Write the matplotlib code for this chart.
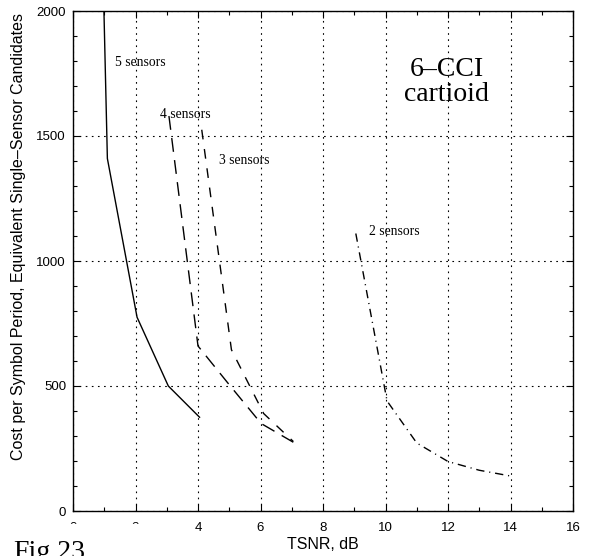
import matplotlib
matplotlib.use("Agg")

import matplotlib.pyplot as plt
from matplotlib.patches import Rectangle
from matplotlib.ticker import MultipleLocator

# ---------------------------------------------------------------------------
# Data (TSNR in dB, cost per symbol period)
# ---------------------------------------------------------------------------
sens5_x = [0.99, 1.1, 2.05, 3.05, 4.05]
sens5_y = [2000, 1410, 775, 500, 375]

sens4_x = [3.07, 4.0, 5.0, 6.02, 7.05]
sens4_y = [1580, 660, 505, 350, 275]

sens3_x = [4.12, 5.07, 6.1, 7.05]
sens3_y = [1525, 645, 390, 278]

sens2_x = [9.05, 10.05, 11.0, 12.0, 13.0, 14.0]
sens2_y = [1110, 440, 272, 198, 163, 140]

curve_labels = ["5 sensors", "4 sensors", "3 sensors", "2 sensors"]
label_x = [1.34, 2.78, 4.67, 9.47]
label_y = [1796, 1588, 1404, 1117]

plt.rcParams["font.family"] = ["Liberation Sans", "DejaVu Sans"]
SERIF = ["Liberation Serif", "DejaVu Serif"]

fig = plt.figure(figsize=(5.91, 5.56), dpi=100)
ax = fig.add_axes([73 / 591, 45 / 556, 500 / 591, 500 / 556])

# ── curves ────────────────────────────────────────────────────────────────
ax.plot(sens5_x, sens5_y, color="black", lw=1.0, solid_joinstyle="miter")
ax.plot(sens4_x, sens4_y, color="black", lw=1.0, dashes=(10, 6))
ax.plot(sens3_x, sens3_y, color="black", lw=1.0, dashes=(7, 7))
ax.plot(sens2_x, sens2_y, color="black", lw=1.0, dashes=(6, 3.5, 0.8, 3.5))

for txt, x, y in zip(curve_labels, label_x, label_y):
    ax.text(x, y, txt, family=SERIF, fontsize=9.8, ha="left", va="center")

ax.text(11.95, 1715, "6\u2013CCI\ncartioid", family=SERIF, fontsize=20,
        ha="center", va="center", linespacing=1.0)

# ── axes ──────────────────────────────────────────────────────────────────
ax.set_xlim(0, 16)
ax.set_ylim(0, 2000)
ax.xaxis.set_major_locator(MultipleLocator(2))
ax.xaxis.set_minor_locator(MultipleLocator(1))
ax.yaxis.set_major_locator(MultipleLocator(500))
ax.yaxis.set_minor_locator(MultipleLocator(100))
ax.tick_params(which="both", direction="in", top=True, right=True,
               labelsize=9.5, width=0.8)
ax.tick_params(which="major", length=5)
ax.tick_params(which="minor", length=3)
ax.tick_params(axis="x", pad=8)
ax.tick_params(axis="y", pad=5)
ax.grid(True, which="major", color="black", lw=0.8,
        linestyle=(0, (1.5, 4)))
for s in ax.spines.values():
    s.set_linewidth(1.0)

ax.set_xlabel("TSNR, dB", fontsize=11.5)
ax.xaxis.set_label_coords(0.5, -0.052)
ax.set_ylabel("Cost per Symbol Period, Equivalent Single\u2013Sensor Candidates",
              fontsize=11.5)
ax.yaxis.set_label_coords(-0.093, 0.548)

# ── "Fig.23" caption box over the lower-left corner ───────────────────────
fig.patches.append(Rectangle((0, 0), 150 / 591, 32 / 556,
                             transform=fig.transFigure, color="white",
                             zorder=10))
fig.text(13 / 591, -3 / 556, "Fig.23", family=SERIF, fontsize=20,
         ha="left", va="baseline", zorder=11)

fig.savefig("out.png", dpi=100)
